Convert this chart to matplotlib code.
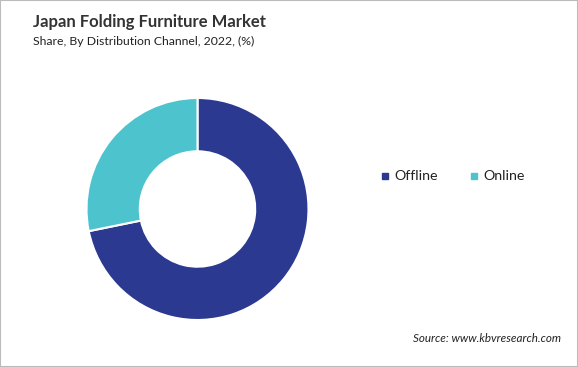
import matplotlib
matplotlib.use("Agg")
import matplotlib.pyplot as plt
from matplotlib.patches import Rectangle

categories = ["Offline", "Online"]
shares = [71.8, 28.2]
colors = ["#2B3990", "#4CC3CD"]

W, H = 578, 367
fig = plt.figure(figsize=(W / 100, H / 100), dpi=100)
fig.patch.set_facecolor("white")
font = ["Lato", "DejaVu Sans"]

# donut
cx, cy, r = 197.5, 209, 111
ax = fig.add_axes([(cx - r) / W, 1 - (cy + r) / H, 2 * r / W, 2 * r / H])
ax.pie(shares, colors=colors, startangle=90, counterclock=False,
       wedgeprops=dict(width=0.48, edgecolor="white", linewidth=1.5))
ax.set_aspect("equal")
ax.set_xlim(-1.0, 1.0)
ax.set_ylim(-1.0, 1.0)
ax.axis("off")

fig.text(33 / W, 1 - 22 / H, "Japan Folding Furniture Market", fontsize=12,
         fontweight="bold", color="#333333", family=font, va="center", ha="left")
fig.text(33 / W, 1 - 41 / H, "Share, By Distribution Channel, 2022, (%)", fontsize=8.8,
         color="#222222", family=font, va="center", ha="left")

# legend
lx = [385, 474]
for x, lab, c in zip(lx, categories, colors):
    fig.patches.append(Rectangle(((x - 3) / W, 1 - (176 + 3) / H), 6 / W, 6 / H,
                                 transform=fig.transFigure, color=c))
    fig.text((x + 9) / W, 1 - 176 / H, lab, fontsize=10.3, color="#222222",
             family=font, va="center", ha="left")

fig.text(561 / W, 1 - 339 / H, "Source: www.kbvresearch.com", fontsize=8.4,
         style="italic", color="#222222", family=font, va="center", ha="right")

# frame
fig.patches.append(Rectangle((0, 0), 1, 1, transform=fig.transFigure, fill=False,
                             edgecolor="#BBBBBB", linewidth=1.5))

fig.savefig("out.png", dpi=100)
